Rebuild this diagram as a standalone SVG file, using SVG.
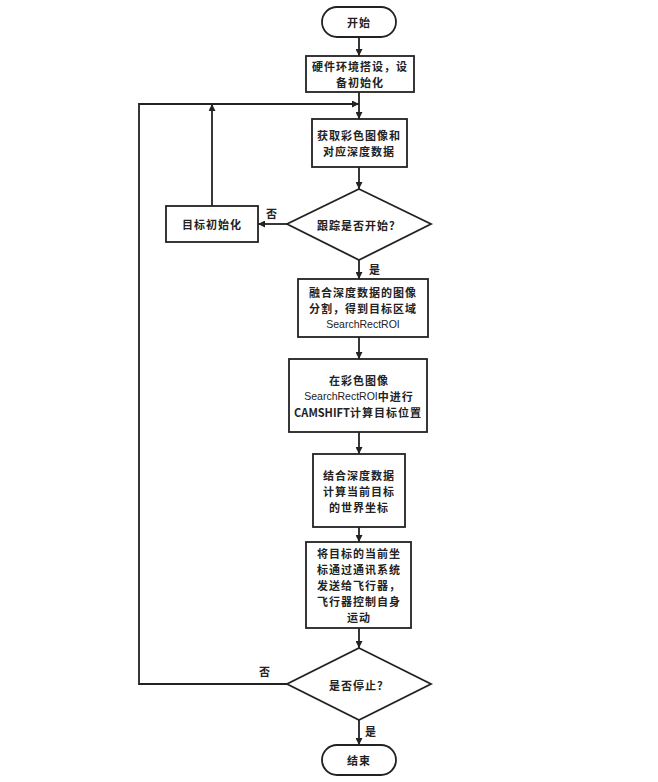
<svg xmlns="http://www.w3.org/2000/svg" width="658" height="782" viewBox="0 0 658 782">
<defs>
<style>
.n{fill:#fff;stroke:#222;stroke-width:1.8}
.t{font-family:"Noto Sans CJK SC","Liberation Sans",sans-serif;font-size:11px;letter-spacing:1px;font-weight:bold;fill:#222;text-anchor:middle;dominant-baseline:central}
.l{font-family:"Liberation Sans","Noto Sans CJK SC",sans-serif;font-weight:normal;font-size:10.5px;letter-spacing:0}
.b{letter-spacing:0}
.c{fill:none;stroke:#222;stroke-width:1.8}
</style>
<marker id="a" viewBox="0 0 10 10" refX="10" refY="5" markerWidth="7" markerHeight="7" markerUnits="userSpaceOnUse" orient="auto">
<path d="M0,0L10,5L0,10z" fill="#222"/>
</marker>
</defs>
<rect width="658" height="782" fill="#fff"/>
<g id="connectors">
<path class="c" d="M359,37V56" marker-end="url(#a)"/>
<path class="c" d="M359,92V119" marker-end="url(#a)"/>
<path class="c" d="M359,167V189" marker-end="url(#a)"/>
<path class="c" d="M287,224H258" marker-end="url(#a)"/>
<path class="c" d="M212,206V104" marker-end="url(#a)"/>
<path class="c" d="M287,684H139V104H359" marker-end="url(#a)"/>
<path class="c" d="M359,260V279" marker-end="url(#a)"/>
<path class="c" d="M359,337V359" marker-end="url(#a)"/>
<path class="c" d="M359,432V454" marker-end="url(#a)"/>
<path class="c" d="M359,527V542" marker-end="url(#a)"/>
<path class="c" d="M359,628V648" marker-end="url(#a)"/>
<path class="c" d="M359,720V745" marker-end="url(#a)"/>
<text class="t" x="272" y="213">否</text>
<text class="t" x="375" y="269">是</text>
<text class="t" x="265" y="671">否</text>
<text class="t" x="371" y="731">是</text>
</g>
<g id="start">
<rect class="n" x="322" y="7" width="74" height="30" rx="15"/>
<text class="t" x="359" y="22">开始</text>
</g>
<g id="setup">
<rect class="n" x="306" y="56" width="108" height="36"/>
<text class="t" x="360" y="66">硬件环境搭设，设</text>
<text class="t" x="360" y="82">备初始化</text>
</g>
<g id="acquire">
<rect class="n" x="312" y="119" width="95" height="48"/>
<text class="t" x="359" y="135">获取彩色图像和</text>
<text class="t" x="359" y="151">对应深度数据</text>
</g>
<g id="decision1">
<polygon class="n" points="359,189 431,224 359,260 287,224"/>
<text class="t" x="359" y="225">跟踪是否开始？</text>
</g>
<g id="targetinit">
<rect class="n" x="166" y="206" width="92" height="36"/>
<text class="t" x="212" y="224">目标初始化</text>
</g>
<g id="segment">
<rect class="n" x="298" y="279" width="130" height="58"/>
<text class="t" x="363" y="292">融合深度数据的图像</text>
<text class="t" x="363" y="308">分割，得到目标区域</text>
<text class="t" x="363" y="324"><tspan class="l">SearchRectROI</tspan></text>
</g>
<g id="camshift">
<rect class="n" x="289" y="359" width="138" height="73"/>
<text class="t" x="359" y="379.5">在彩色图像</text>
<text class="t" x="359" y="395.5"><tspan class="l">SearchRectROI</tspan>中进行</text>
<text class="t" x="358" y="411.5"><tspan class="b">CAMSHIFT</tspan>计算目标位置</text>
</g>
<g id="world">
<rect class="n" x="313" y="454" width="92" height="73"/>
<text class="t" x="359" y="474.5">结合深度数据</text>
<text class="t" x="359" y="490.5">计算当前目标</text>
<text class="t" x="359" y="506.5">的世界坐标</text>
</g>
<g id="send">
<rect class="n" x="306" y="542" width="105" height="86"/>
<text class="t" x="359" y="553">将目标的当前坐</text>
<text class="t" x="359" y="569">标通过通讯系统</text>
<text class="t" x="359" y="585">发送给飞行器，</text>
<text class="t" x="359" y="601">飞行器控制自身</text>
<text class="t" x="359" y="617">运动</text>
</g>
<g id="decision2">
<polygon class="n" points="359,648 431,684 359,720 287,684"/>
<text class="t" x="359" y="685">是否停止？</text>
</g>
<g id="end">
<rect class="n" x="322" y="745" width="74" height="30" rx="15"/>
<text class="t" x="359" y="760">结束</text>
</g>
</svg>
